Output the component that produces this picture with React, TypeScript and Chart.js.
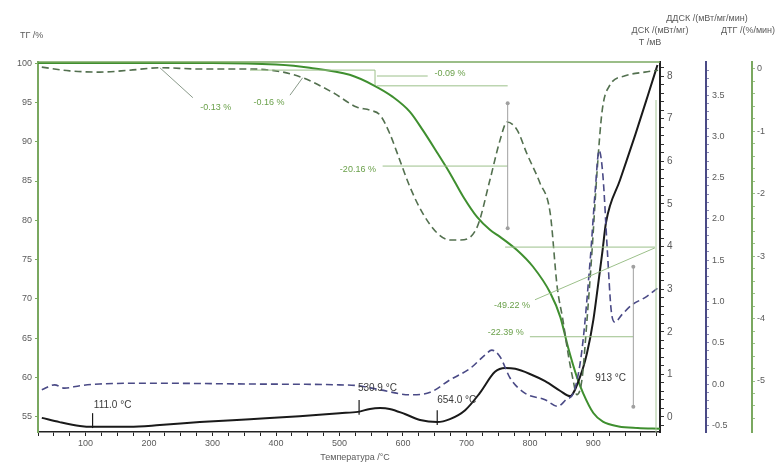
import { useEffect, useRef } from "react";
import { Chart, registerables } from "chart.js";

Chart.register(...registerables);

// ТГ: mass, %
const tgTemp = [25, 100, 200, 300, 400, 453, 516, 553, 584, 611, 631, 654, 674, 695, 717, 737, 753, 780, 805, 832, 848, 860, 874, 884, 900, 915, 940, 970, 1005];
const tgMass = [100, 100, 100, 100, 99.8, 99.4, 98.5, 97.2, 95.7, 93.8, 91.5, 88.6, 86.0, 83.0, 80.4, 78.8, 77.9, 76.2, 74.1, 70.8, 67.7, 63.9, 60.1, 58.0, 55.5, 54.4, 53.8, 53.6, 53.5];

// ДТГ: %/мин
const dtgTemp = [31, 75, 122, 169, 217, 280, 359, 411, 442, 490, 527, 548, 564, 579, 595, 611, 631, 654, 674, 690, 717, 737, 753, 764, 780, 795, 816, 832, 843, 852, 860, 868, 874, 882, 890, 898, 906, 914, 926, 950, 981, 1002];
const dtgRate = [0.03, -0.03, -0.05, -0.02, 0.02, 0, 0, -0.05, -0.14, -0.38, -0.61, -0.66, -0.74, -1.03, -1.46, -1.89, -2.31, -2.63, -2.74, -2.74, -2.53, -1.78, -1.14, -0.85, -0.98, -1.35, -1.83, -2.31, -3.49, -4.02, -4.55, -4.98, -5.22, -4.98, -4.02, -2.9, -1.62, -0.66, -0.26, -0.11, -0.05, -0.02];

// ДСК: мВт/мг
const dscTemp = [31, 51, 67, 91, 122, 201, 359, 500, 529, 564, 611, 643, 674, 706, 729, 740, 753, 769, 792, 824, 844, 857, 869, 882, 895, 903, 909, 915, 922, 928, 934, 945, 961, 982, 1001];
const dscHeat = [-0.07, -0.01, -0.05, -0.02, 0, 0.01, 0, -0.01, -0.02, -0.07, -0.13, -0.1, 0.05, 0.19, 0.35, 0.41, 0.33, 0.07, -0.11, -0.19, -0.27, -0.19, -0.1, 0.41, 1.5, 2.35, 2.83, 2.53, 1.62, 0.9, 0.75, 0.84, 0.96, 1.05, 1.16];

// Термопара: мВ
const sigTemp = [31, 59, 91, 111, 169, 217, 280, 359, 437, 500, 529, 548, 564, 579, 603, 627, 654, 674, 698, 721, 745, 761, 777, 800, 824, 848, 863, 879, 890, 900, 907, 914, 920, 942, 966, 986, 1001];
const sigVolt = [-0.02, -0.12, -0.21, -0.23, -0.23, -0.19, -0.12, -0.05, 0.02, 0.09, 0.12, 0.19, 0.21, 0.19, 0.07, -0.07, -0.12, -0.05, 0.16, 0.56, 1.06, 1.15, 1.13, 1.01, 0.84, 0.61, 0.49, 0.94, 1.5, 2.28, 3.05, 3.85, 4.57, 5.56, 6.62, 7.55, 8.26];

// tick labels
const tempLabels = [100, 200, 300, 400, 500, 600, 700, 800, 900];
const tgLabels = [55, 60, 65, 70, 75, 80, 85, 90, 95, 100];
const sigLabels = [0, 1, 2, 3, 4, 5, 6, 7, 8];
const dscLabels = [-0.5, 0, 0.5, 1, 1.5, 2, 2.5, 3, 3.5];
const dtgLabels = [0, -1, -2, -3, -4, -5];

// step annotations on the ТГ curve
const tgStepLabels = [
  { text: "-0.09 %", t: 674, v: 98.7 },
  { text: "-20.16 %", t: 529, v: 86.4 },
  { text: "-49.22 %", t: 772, v: 69.2 },
  { text: "-22.39 %", t: 762, v: 65.8 },
  { text: "-0.13 %", t: 305, v: 94.4 },
  { text: "-0.16 %", t: 389, v: 95.0 },
];
const tgStepLines = [
  [359, 99.1, 556, 99.1],
  [556, 99.1, 556, 97.2],
  [559, 98.35, 639, 98.35],
  [559, 97.1, 765, 97.1],
  [568, 86.9, 765, 86.9],
  [761, 76.6, 997, 76.6],
  [808, 69.9, 997, 76.5],
  [800, 65.2, 963, 65.2],
];
const tgStepBars = [
  [765, 94.9, 79.0],
  [963, 74.1, 56.3],
];
const dtgLeaders = [
  [217, 0.02, 269, -0.46],
  [422, -0.42, 442, -0.14],
];

// peak temperatures on the signal curve
const peakMarks = [
  { text: "111.0 °C", t: 111.0, from: 0.09, to: -0.26, lx: 113, ly: 0.28 },
  { text: "530.9 °C", t: 530.9, from: 0.4, to: 0.05, lx: 529, ly: 0.68 },
  { text: "654.0 °C", t: 654.0, from: 0.16, to: -0.19, lx: 654, ly: 0.4 },
];
const peakTextOnly = [{ text: "913 °C", t: 903, v: 0.92 }];

const FONT = "'Liberation Sans', Arial, sans-serif";
const TEXT = "#5a5a5a";
const TG_GREEN = "#3f8f2f";
const NOTE_GREEN = "#6aa04a";
const DSC_BLUE = "#4a4a86";
const AXIS_GREEN = "#7aa860";

const pts = (xs: number[], ys: number[]) => xs.map((x, i) => ({ x, y: ys[i] }));

const near = (list: number[], v: number) => list.some((l) => Math.abs(l - v) < 1e-6);

const minorTicks = (from: number, to: number, step: number) => {
  const out: { value: number }[] = [];
  const n = Math.round((to - from) / step);
  for (let i = 0; i <= n; i++) out.push({ value: +(from + i * step).toFixed(6) });
  return out;
};

const overlay = {
  id: "overlay",
  afterDatasetsDraw(chart: any) {
    const { ctx, scales, chartArea } = chart;
    const x = scales.x;
    const tg = scales.yTG;
    const sig = scales.ySig;
    const dtg = scales.yDTG;
    ctx.save();

    // frame
    ctx.strokeStyle = AXIS_GREEN;
    ctx.lineWidth = 1.5;
    ctx.beginPath();
    ctx.moveTo(chartArea.left, tg.getPixelForValue(100) - 1);
    ctx.lineTo(chartArea.right, tg.getPixelForValue(100) - 1);
    ctx.stroke();
    ctx.strokeStyle = "#a8c898";
    ctx.lineWidth = 1;
    ctx.beginPath();
    ctx.moveTo(chartArea.right - 4, 100);
    ctx.lineTo(chartArea.right - 4, chartArea.bottom);
    ctx.stroke();

    // step lines
    ctx.strokeStyle = "#9cc08a";
    ctx.lineWidth = 1;
    for (const [t1, v1, t2, v2] of tgStepLines) {
      ctx.beginPath();
      ctx.moveTo(x.getPixelForValue(t1), tg.getPixelForValue(v1));
      ctx.lineTo(x.getPixelForValue(t2), tg.getPixelForValue(v2));
      ctx.stroke();
    }
    ctx.strokeStyle = "#a0a0a0";
    ctx.fillStyle = "#a0a0a0";
    for (const [t, v1, v2] of tgStepBars) {
      const px = x.getPixelForValue(t);
      ctx.beginPath();
      ctx.moveTo(px, tg.getPixelForValue(v1));
      ctx.lineTo(px, tg.getPixelForValue(v2));
      ctx.stroke();
      for (const v of [v1, v2]) {
        ctx.beginPath();
        ctx.arc(px, tg.getPixelForValue(v), 2, 0, Math.PI * 2);
        ctx.fill();
      }
    }
    ctx.strokeStyle = "#8a9a8a";
    for (const [t1, v1, t2, v2] of dtgLeaders) {
      ctx.beginPath();
      ctx.moveTo(x.getPixelForValue(t1), dtg.getPixelForValue(v1));
      ctx.lineTo(x.getPixelForValue(t2), dtg.getPixelForValue(v2));
      ctx.stroke();
    }

    ctx.font = `9px ${FONT}`;
    ctx.textAlign = "center";
    ctx.textBaseline = "middle";
    ctx.fillStyle = NOTE_GREEN;
    for (const s of tgStepLabels) {
      ctx.fillText(s.text, x.getPixelForValue(s.t), tg.getPixelForValue(s.v));
    }

    // peak markers
    ctx.strokeStyle = "#1a1a1a";
    ctx.lineWidth = 1.2;
    ctx.fillStyle = "#3a3a3a";
    ctx.textAlign = "left";
    ctx.font = `10px ${FONT}`;
    for (const m of peakMarks) {
      const px = x.getPixelForValue(m.t);
      ctx.beginPath();
      ctx.moveTo(px, sig.getPixelForValue(m.from));
      ctx.lineTo(px, sig.getPixelForValue(m.to));
      ctx.stroke();
      ctx.fillText(m.text, x.getPixelForValue(m.lx), sig.getPixelForValue(m.ly));
    }
    for (const m of peakTextOnly) {
      ctx.fillText(m.text, x.getPixelForValue(m.t), sig.getPixelForValue(m.v));
    }

    // axis titles
    ctx.fillStyle = TEXT;
    ctx.font = `9px ${FONT}`;
    ctx.textAlign = "left";
    ctx.fillText("ТГ /%", 20, 36);
    ctx.textAlign = "center";
    ctx.fillText("ДДСК /(мВт/мг/мин)", 707, 19);
    ctx.fillText("ДСК /(мВт/мг)", 660, 31);
    ctx.fillText("ДТГ /(%/мин)", 748, 31);
    ctx.fillText("T /мВ", 650, 43);
    ctx.fillText("Температура /°C", 355, 458);
    ctx.restore();
  },
};

export default function App() {
  const ref = useRef<HTMLCanvasElement | null>(null);

  useEffect(() => {
    if (!ref.current) return;
    const tickFont = { family: FONT, size: 9 };
    const chart = new Chart(ref.current, {
      type: "line",
      data: {
        datasets: [
          {
            label: "ДСК",
            data: pts(dscTemp, dscHeat),
            yAxisID: "yDSC",
            borderColor: DSC_BLUE,
            borderWidth: 1.6,
            borderDash: [7, 4],
            pointRadius: 0,
            cubicInterpolationMode: "monotone",
          },
          {
            label: "ДТГ",
            data: pts(dtgTemp, dtgRate),
            yAxisID: "yDTG",
            borderColor: "#53704f",
            borderWidth: 1.6,
            borderDash: [7, 4],
            pointRadius: 0,
            cubicInterpolationMode: "monotone",
          },
          {
            label: "T",
            data: pts(sigTemp, sigVolt),
            yAxisID: "ySig",
            borderColor: "#1a1a1a",
            borderWidth: 2,
            pointRadius: 0,
            cubicInterpolationMode: "monotone",
          },
          {
            label: "ТГ",
            data: pts(tgTemp, tgMass),
            yAxisID: "yTG",
            borderColor: TG_GREEN,
            borderWidth: 2,
            pointRadius: 0,
            cubicInterpolationMode: "monotone",
          },
        ],
      },
      options: {
        responsive: false,
        animation: false,
        events: [],
        layout: { padding: { top: 62, left: 0, right: 0, bottom: 0 } },
        plugins: { legend: { display: false }, tooltip: { enabled: false } },
        scales: {
          x: {
            type: "linear",
            min: 25,
            max: 1005,
            afterFit: (s: any) => {
              s.height = 32;
            },
            afterBuildTicks: (s: any) => {
              s.ticks = minorTicks(25, 1000, 25);
            },
            border: { color: "#222", width: 1.5 },
            grid: { drawOnChartArea: false, drawTicks: true, tickLength: 4, color: "#222" },
            ticks: {
              autoSkip: false,
              maxRotation: 0,
              padding: 2,
              color: TEXT,
              font: tickFont,
              callback: (v: any) => (near(tempLabels, v) ? String(v) : ""),
            },
          },
          yTG: {
            position: "left",
            min: 53.09,
            max: 100.13,
            afterFit: (s: any) => {
              s.width = 38;
            },
            afterBuildTicks: (s: any) => {
              s.ticks = minorTicks(55, 100, 5);
            },
            border: { color: AXIS_GREEN, width: 2 },
            grid: { drawOnChartArea: false, drawTicks: true, tickLength: 3, color: AXIS_GREEN },
            ticks: {
              autoSkip: false,
              padding: 3,
              color: TEXT,
              font: tickFont,
              callback: (v: any) => (near(tgLabels, v) ? String(v) : ""),
            },
          },
          ySig: {
            position: "right",
            weight: 0,
            min: -0.352,
            max: 8.33,
            afterFit: (s: any) => {
              s.width = 46;
            },
            afterBuildTicks: (s: any) => {
              s.ticks = minorTicks(-0.2, 8.2, 0.2);
            },
            border: { color: "#222", width: 2 },
            grid: { drawOnChartArea: false, drawTicks: true, tickLength: 4, color: "#333" },
            ticks: {
              autoSkip: false,
              padding: 3,
              color: TEXT,
              font: { family: FONT, size: 10 },
              callback: (v: any) => (near(sigLabels, v) ? String(Math.round(v)) : ""),
            },
          },
          yDSC: {
            position: "right",
            weight: 1,
            min: -0.581,
            max: 3.9,
            afterFit: (s: any) => {
              s.width = 46;
            },
            afterBuildTicks: (s: any) => {
              s.ticks = minorTicks(-0.5, 3.8, 0.1);
            },
            border: { color: DSC_BLUE, width: 2 },
            grid: { drawOnChartArea: false, drawTicks: true, tickLength: 3, color: "#8a8ab0" },
            ticks: {
              autoSkip: false,
              padding: 3,
              color: TEXT,
              font: tickFont,
              callback: (v: any) => (near(dscLabels, v) ? Number(v).toFixed(1) : ""),
            },
          },
          yDTG: {
            position: "right",
            weight: 2,
            min: -5.817,
            max: 0.112,
            afterFit: (s: any) => {
              s.width = 28;
            },
            afterBuildTicks: (s: any) => {
              s.ticks = minorTicks(-5.6, 0, 0.2);
            },
            border: { color: AXIS_GREEN, width: 2 },
            grid: { drawOnChartArea: false, drawTicks: true, tickLength: 3, color: "#9cc08a" },
            ticks: {
              autoSkip: false,
              padding: 2,
              color: TEXT,
              font: tickFont,
              callback: (v: any) => (near(dtgLabels, v) ? String(Math.round(v)) : ""),
            },
          },
        },
      } as any,
      plugins: [overlay],
    });
    return () => chart.destroy();
  }, []);

  return (
    <div style={{ position: "fixed", left: 0, top: 0, width: 780, height: 464, background: "#fff" }}>
      <canvas ref={ref} width={780} height={464} />
    </div>
  );
}
